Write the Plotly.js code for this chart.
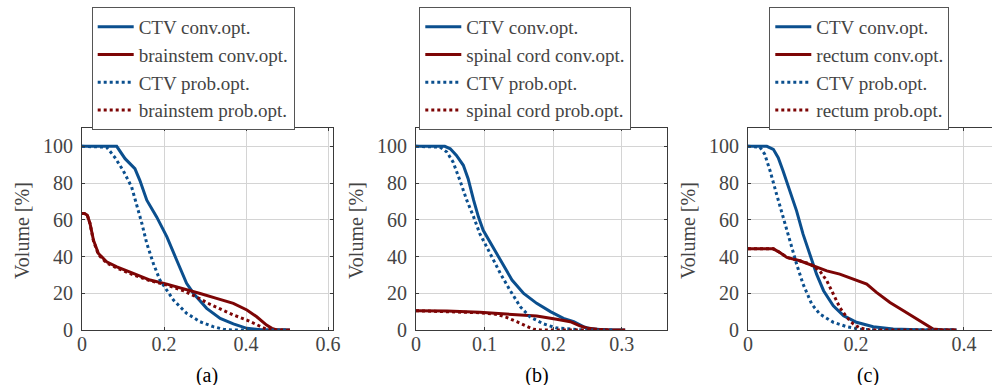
<!DOCTYPE html>
<html><head><meta charset="utf-8">
<script src="https://cdn.plot.ly/plotly-3.0.1.min.js"></script>
<style>
html,body{margin:0;padding:0;background:#fff;font-family:'Liberation Serif'}
.cap{position:absolute;top:362px;width:60px;margin-left:-30px;text-align:center;font-family:'Liberation Serif';font-size:20px;line-height:26px;color:#000;z-index:5}
#chart{position:absolute;left:0;top:0}
#chart svg text{font-family:'Liberation Serif',serif !important}
</style>
</head><body>
<div class="cap" id="capa" style="left:207px"></div>
<div class="cap" id="capb" style="left:537px"></div>
<div class="cap" id="capc" style="left:868px"></div>
<div id="chart" style="width:992px;height:385px"></div>
<script>
// ---------- Data ----------
// Panel (a)
const a_ctvConv_x = [0,0.0846,0.105,0.129,0.141,0.158,0.182,0.207,0.231,0.255,0.272,0.304,0.337,0.369,0.402,0.418,0.44,0.507];
const a_ctvConv_y = [100,100,93.3,87.9,81.5,70.7,61.6,50.7,38,25.4,19.9,11.8,6.3,3.3,0.9,0.4,0,0];
const a_oarConv_x = [0,0.006,0.013,0.0195,0.028,0.04,0.06,0.085,0.125,0.166,0.207,0.247,0.288,0.328,0.369,0.402,0.426,0.45,0.463,0.475,0.507];
const a_oarConv_y = [63.5,63.4,62.5,58,48.9,41.7,37.1,34.4,30.8,27.2,25,22.6,19.9,17.2,14.5,10.9,7.2,2.7,0.9,0,0];
const a_ctvProb_x = [0,0.06,0.08,0.10,0.121,0.133,0.146,0.158,0.174,0.19,0.207,0.223,0.255,0.288,0.32,0.345,0.369,0.50];
const a_ctvProb_y = [100,99.6,94,87,77.9,68.8,58,47.1,36.2,27.2,21.7,16.3,9.1,4.5,1.8,0.4,0,0];
const a_oarProb_x = [0,0.006,0.013,0.0195,0.028,0.04,0.06,0.085,0.125,0.166,0.207,0.247,0.288,0.304,0.337,0.369,0.402,0.434,0.45,0.47,0.49];
const a_oarProb_y = [63.5,63.4,62.5,58,48.5,41,36.5,33.8,30,26.8,24.5,21.4,17,14.9,11.5,8.2,5.4,1.8,0.4,0,0];

// Panel (b)
const b_ctvConv_x = [0,0.042,0.05,0.059,0.069,0.076,0.084,0.091,0.098,0.108,0.123,0.14,0.157,0.176,0.196,0.215,0.23,0.244,0.254,0.278,0.305];
const b_ctvConv_y = [100,100,98.7,95.1,89.7,82.4,70.7,61.6,54.3,48,38,27.2,19.9,14.5,10,6.3,4.5,1.8,0.7,0,0];
const b_oarConv_x = [0,0.045,0.093,0.142,0.176,0.205,0.225,0.239,0.249,0.264,0.283,0.305];
const b_oarConv_y = [10.5,10.3,9.6,8.5,7.6,5.8,4.5,2.2,1.1,0.4,0,0];
const b_ctvProb_x = [0,0.035,0.045,0.054,0.064,0.074,0.084,0.093,0.108,0.123,0.137,0.152,0.166,0.186,0.205,0.225,0.244,0.29];
const b_ctvProb_y = [100,99.6,96.9,91.5,81.5,70.7,61.6,52.5,41.7,30.8,21.7,12.7,7.2,3.3,1.1,0.4,0,0];
const b_oarProb_x = [0,0.045,0.093,0.118,0.132,0.147,0.162,0.171,0.181,0.28];
const b_oarProb_y = [10.5,10.1,9.4,8.5,6.9,4.5,2.2,0.4,0,0];

// Panel (c)
const c_ctvConv_x = [0,0.035,0.047,0.056,0.065,0.078,0.09,0.102,0.115,0.127,0.14,0.158,0.177,0.201,0.232,0.269,0.331,0.386];
const c_ctvConv_y = [100,100,98.4,93.8,86.6,75.7,64.9,52.2,41.3,30.4,21.4,13.2,7.8,4.2,1.8,0.5,0,0];
const c_oarConv_x = [0,0.047,0.059,0.072,0.096,0.121,0.146,0.17,0.195,0.22,0.238,0.263,0.288,0.312,0.331,0.343,0.362,0.386];
const c_oarConv_y = [44.2,44.2,42.2,39.5,37.7,35,32.2,30.4,27.7,25,20.5,15,10.5,6,2.9,0.5,0,0];
const c_ctvProb_x = [0,0.022,0.031,0.041,0.053,0.065,0.078,0.09,0.102,0.118,0.133,0.158,0.183,0.207,0.238,0.386];
const c_ctvProb_y = [100,99.6,95.7,86.6,73.9,61.2,48.6,35.9,25,14.1,8.7,4.2,1.8,0.4,0,0];
const c_oarProb_x = [0,0.047,0.059,0.072,0.096,0.115,0.133,0.146,0.158,0.17,0.183,0.195,0.207,0.226,0.386];
const c_oarProb_y = [44.2,44.2,42.2,39.5,37.7,35.9,32.2,26.8,19.6,12.3,6.9,3.3,1.1,0,0];

const organNames = ['brainstem', 'spinal cord', 'rectum'];
const captionLabels = ['(a)', '(b)', '(c)'];
const volumeTitle = 'Volume [%]';

(function () {
  var BLUE = '#0b4f8e', RED = '#7d0505', FAM = 'Liberation Serif';
  var PW = 992, PH = 385;
  function fx(v) { return v / PW; }
  function fy(v) { return 1 - v / PH; }

  document.getElementById('capa').textContent = captionLabels[0];
  document.getElementById('capb').textContent = captionLabels[1];
  document.getElementById('capc').textContent = captionLabels[2];

  var panelDefs = [
    {data: [[a_ctvConv_x,a_ctvConv_y],[a_oarConv_x,a_oarConv_y],[a_ctvProb_x,a_ctvProb_y],[a_oarProb_x,a_oarProb_y]],
     dom: [82, 333], range: [0, 0.612], dtick: 0.2, leg: 91.7, mirrorY: 'ticks'},
    {data: [[b_ctvConv_x,b_ctvConv_y],[b_oarConv_x,b_oarConv_y],[b_ctvProb_x,b_ctvProb_y],[b_oarProb_x,b_oarProb_y]],
     dom: [416, 667], range: [0, 0.366], dtick: 0.1, leg: 419.3, mirrorY: 'ticks'},
    {data: [[c_ctvConv_x,c_ctvConv_y],[c_oarConv_x,c_oarConv_y],[c_ctvProb_x,c_ctvProb_y],[c_oarProb_x,c_oarProb_y]],
     dom: [748, 992], range: [0, 0.452], dtick: 0.2, leg: 769.3, mirrorY: false}
  ];

  var data = [];
  var lay = {
    width: PW, height: PH,
    margin: {l: 0, r: 0, t: 0, b: 0},
    paper_bgcolor: 'rgba(0,0,0,0)', plot_bgcolor: '#fff',
    font: {family: FAM, size: 20},
    showlegend: true,
    annotations: []
  };

  panelDefs.forEach(function (p, i) {
    var n = i === 0 ? '' : String(i + 1);
    var xa = 'x' + n, ya = 'y' + n, lg = 'legend' + n;
    var names = ['CTV conv.opt.', organNames[i] + ' conv.opt.', 'CTV prob.opt.', organNames[i] + ' prob.opt.'];
    var colors = [BLUE, RED, BLUE, RED];
    var dashes = ['solid', 'solid', 'dot', 'dot'];
    p.data.forEach(function (d, k) {
      data.push({
        type: 'scatter', mode: 'lines', x: d[0], y: d[1], name: names[k],
        xaxis: xa, yaxis: ya, legend: lg,
        line: {color: colors[k], width: 3, dash: dashes[k]},
        hoverinfo: 'skip'
      });
    });
    var common = {
      showgrid: true, gridcolor: '#d4d4d4', gridwidth: 1,
      showline: true, linecolor: '#3a3a3a', linewidth: 1,
      ticks: 'inside', ticklen: 3, tickcolor: '#3a3a3a',
      zeroline: false, fixedrange: true
    };
    lay['xaxis' + n] = Object.assign({}, common, {
      domain: [fx(p.dom[0]), fx(p.dom[1])], range: p.range, dtick: p.dtick, tick0: 0,
      anchor: ya, mirror: 'ticks', ticklabelstandoff: -4
    });
    lay['yaxis' + n] = Object.assign({}, common, {
      domain: [fy(330), fy(128)], range: [0, 110], dtick: 20, tick0: 0,
      anchor: xa, mirror: p.mirrorY, ticklabelstandoff: 4
    });
    lay[lg] = {
      x: fx(p.leg), y: fy(7), xanchor: 'left', yanchor: 'top',
      xref: 'paper', yref: 'paper',
      bgcolor: '#fff', bordercolor: '#555', borderwidth: 1,
      font: {family: FAM, size: 19},
      tracegroupgap: 0, itemwidth: 36
    };
    lay.annotations.push({
      text: volumeTitle, xref: 'paper', yref: 'paper', textangle: -90,
      x: fx(p.dom[0] - 60), y: fy(231), xanchor: 'center', yanchor: 'middle',
      showarrow: false, font: {family: FAM, size: 20}
    });
  });

  Plotly.newPlot('chart', data, lay, {displayModeBar: false});
})();
</script></body></html>
